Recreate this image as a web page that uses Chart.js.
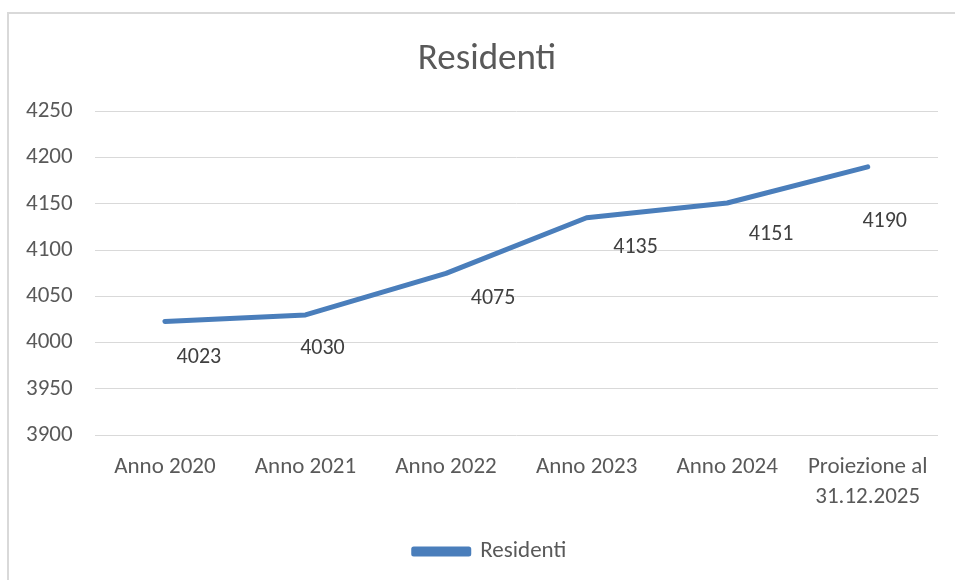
<!DOCTYPE html>
<html>
<head>
<meta charset="utf-8">
<title>Residenti</title>
<script src="https://cdn.jsdelivr.net/npm/chart.js@4/dist/chart.umd.min.js"></script>
<style>
    html, body { margin: 0; padding: 0; background: #fff; overflow: hidden; }
    .frame {
        position: absolute;
        left: 7px;
        top: 12px;
        width: 960px;
        height: 580px;
        border-left: 2px solid #d9d9d9;
        border-top: 2px solid #d9d9d9;
    }
    .chart-box { position: absolute; left: 0; top: 0; width: 955px; height: 580px; }
</style>
</head>
<body>
<div class="frame"></div>
<div class="chart-box"><canvas id="lineChart"></canvas></div>
<script>
// Chart data
const categories = ['Anno 2020', 'Anno 2021', 'Anno 2022', 'Anno 2023', 'Anno 2024', ['Proiezione al', '31.12.2025']];
const residenti = [4023, 4030, 4075, 4135, 4151, 4190];
const yTicks = { min: 3900, max: 4250, step: 50 };

const blue = '#4a7ebb';
const fontFamily = "Carlito, Lato, 'Noto Sans', sans-serif";

// Draws the value under each point (Excel-like data labels)
const valueLabels = {
    id: 'valueLabels',
    afterDatasetsDraw(chart, args, opts) {
        const ctx = chart.ctx;
        const meta = chart.getDatasetMeta(0);
        ctx.save();
        ctx.font = opts.size + 'px ' + fontFamily;
        ctx.fillStyle = opts.color;
        ctx.textAlign = 'center';
        ctx.textBaseline = 'middle';
        meta.data.forEach((pt, i) => {
            const off = opts.offsets[i];
            ctx.fillText(String(chart.data.datasets[0].data[i]), pt.x + off[0], pt.y + off[1]);
        });
        ctx.restore();
    }
};

// Excel centres title and legend on the whole frame, not on the plot width
const shiftBoxes = {
    id: 'shiftBoxes',
    afterLayout(chart, args, opts) {
        if (chart.titleBlock) {
            chart.titleBlock.left += opts.title;
            chart.titleBlock.right += opts.title;
        }
        if (chart.legend) {
            chart.legend.left += opts.legend;
            chart.legend.right += opts.legend;
        }
    }
};

const ctx = document.getElementById('lineChart').getContext('2d');
new Chart(ctx, {
    type: 'line',
    data: {
        labels: categories,
        datasets: [{
            label: 'Residenti',
            data: residenti,
            borderColor: blue,
            backgroundColor: blue,
            borderWidth: 5,
            borderCapStyle: 'round',
            borderJoinStyle: 'round',
            pointRadius: 0,
            tension: 0
        }]
    },
    plugins: [valueLabels, shiftBoxes],
    options: {
        responsive: true,
        maintainAspectRatio: false,
        animation: false,
        layout: {
            padding: { top: 13, right: 17, bottom: 7, left: 4 }
        },
        scales: {
            x: {
                offset: true,
                grid: { display: false },
                border: { display: false },
                ticks: {
                    color: '#595959',
                    font: { family: fontFamily, size: 23, lineHeight: 1.3 },
                    padding: 9,
                    maxRotation: 0,
                    autoSkip: false
                }
            },
            y: {
                min: yTicks.min,
                max: yTicks.max,
                grid: { color: '#d9d9d9', lineWidth: 1, drawTicks: false },
                border: { display: false },
                ticks: {
                    stepSize: yTicks.step,
                    color: '#595959',
                    font: { family: fontFamily, size: 23 },
                    padding: 22,
                    callback: v => String(v)
                }
            }
        },
        plugins: {
            title: {
                display: true,
                text: 'Residenti',
                color: '#595959',
                font: { family: fontFamily, size: 37, weight: 'normal' },
                padding: { top: 25, bottom: 29 }
            },
            legend: {
                display: true,
                position: 'bottom',
                labels: {
                    color: '#595959',
                    font: { family: fontFamily, size: 23 },
                    boxWidth: 55,
                    boxHeight: 5,
                    padding: 19
                }
            },
            tooltip: { enabled: false },
            shiftBoxes: { title: 16, legend: 19 },
            valueLabels: {
                size: 22,
                color: '#404040',
                offsets: [[34, 36], [17, 34], [47, 25], [49, 30], [44, 32], [17, 55]]
            }
        }
    }
});
</script>
</body>
</html>
